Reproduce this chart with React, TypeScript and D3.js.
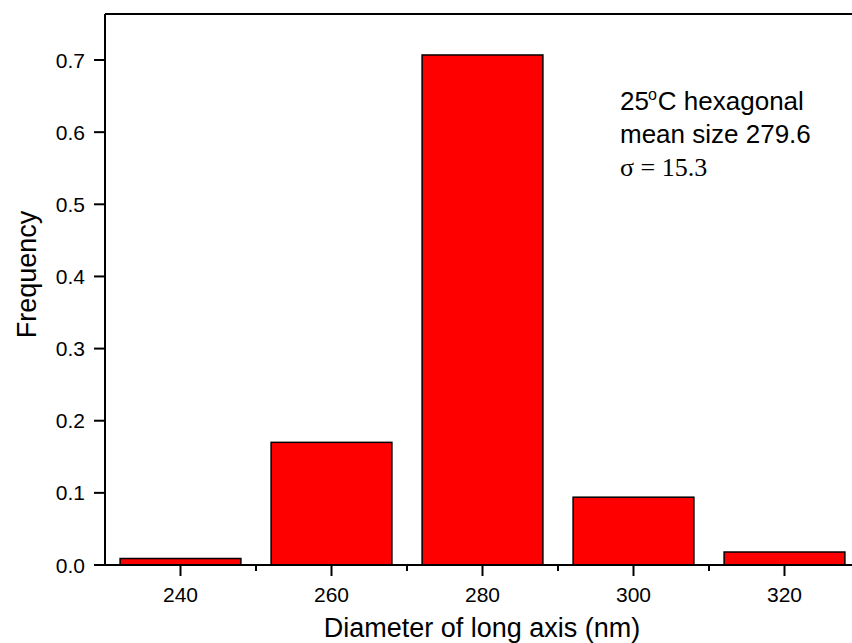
import * as d3 from 'd3';

const binCenters = [240, 260, 280, 300, 320];
const frequencies = [0.009, 0.17, 0.707, 0.094, 0.018];
const yTicks = [0, 0.1, 0.2, 0.3, 0.4, 0.5, 0.6, 0.7];
const xMajorTicks = [240, 260, 280, 300, 320];
const xMinorTicks = [250, 270, 290, 310];
const annotation = ['25', 'C hexagonal', 'mean size 279.6', 'σ = 15.3'];

const W = 852;
const H = 643;
const margin = { left: 105, top: 14, bottom: 78 };
const plotW = 755;

export default function App() {
  const x = d3.scaleLinear().domain([230, 330]).range([margin.left, margin.left + plotW]);
  const y = d3.scaleLinear().domain([0, 0.7638]).range([H - margin.bottom, margin.top]);
  const barW = x(248) - x(232);
  const y0 = y(0);
  const sans = 'Arial, "Liberation Sans", sans-serif';

  return (
    <svg width={W} height={H} style={{ position: 'absolute', left: 0, top: 0, background: '#fff' }}>
      {binCenters.map((c, i) => (
        <rect key={c} x={x(c) - barW / 2} y={y(frequencies[i])} width={barW}
          height={y0 - y(frequencies[i])} fill="#ff0000" stroke="#000" strokeWidth={1.5} />
      ))}
      {/* frame */}
      <line x1={margin.left} x2={margin.left + plotW} y1={margin.top} y2={margin.top} stroke="#000" strokeWidth={2} />
      <line x1={margin.left} x2={margin.left + plotW} y1={y0} y2={y0} stroke="#000" strokeWidth={2} />
      <line x1={margin.left} x2={margin.left} y1={margin.top} y2={y0} stroke="#000" strokeWidth={2} />
      {yTicks.map(t => (
        <g key={t}>
          <line x1={margin.left - 11} x2={margin.left} y1={y(t)} y2={y(t)} stroke="#000" strokeWidth={2} />
          <text x={85} y={y(t)} dy="0.36em" textAnchor="end" fontFamily={sans} fontSize={21}>{t.toFixed(1)}</text>
        </g>
      ))}
      {xMajorTicks.map(t => (
        <g key={t}>
          <line x1={x(t)} x2={x(t)} y1={y0} y2={y0 + 11} stroke="#000" strokeWidth={2} />
          <text x={x(t)} y={y0 + 37} textAnchor="middle" fontFamily={sans} fontSize={21}>{t}</text>
        </g>
      ))}
      {xMinorTicks.map(t => (
        <line key={t} x1={x(t)} x2={x(t)} y1={y0} y2={y0 + 6} stroke="#000" strokeWidth={2} />
      ))}
      <text x={482} y={637} textAnchor="middle" fontFamily={sans} fontSize={27}>Diameter of long axis (nm)</text>
      <text transform="translate(36,274.5) rotate(-90)" textAnchor="middle" fontFamily={sans} fontSize={27}>Frequency</text>
      <text x={620} y={110} fontFamily={sans} fontSize={26}>
        {annotation[0]}<tspan dx={-1} dy={-10} fontSize={16}>o</tspan><tspan dx={1} dy={10}>{annotation[1]}</tspan>
      </text>
      <text x={620} y={143} fontFamily={sans} fontSize={26}>{annotation[2]}</text>
      <text x={620} y={176} fontFamily='"Times New Roman", "Liberation Serif", serif' fontSize={26}>{annotation[3]}</text>
    </svg>
  );
}
